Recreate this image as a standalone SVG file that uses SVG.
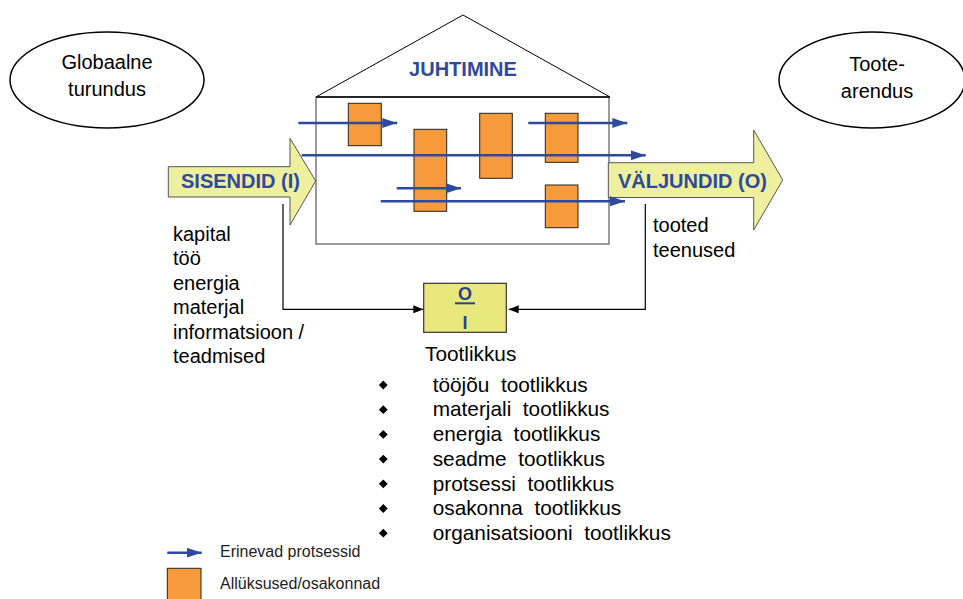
<svg xmlns="http://www.w3.org/2000/svg" width="963" height="599" viewBox="0 0 963 599">
<defs>
<style>
text{font-family:"Liberation Sans",Arial,sans-serif;fill:#000}
.t20{font-size:20px}
.t21{font-size:20.8px}
.blue{font-weight:bold;fill:#2E4A9C;font-size:20px}
.unit{fill:#F79A3B;stroke:#222;stroke-width:1}
.proc{stroke:#2E4A9C;stroke-width:2.6;fill:none;marker-end:url(#bh)}
.fb{stroke:#000;stroke-width:1.2;fill:none;marker-end:url(#kh)}
.bigarrow{fill:#EFEFA0;stroke:#555;stroke-width:1}
.sm{font-size:16px;fill:#222}
</style>
<marker id="bh" viewBox="0 0 15 10" refX="15" refY="5" markerWidth="15" markerHeight="10" markerUnits="userSpaceOnUse" orient="auto">
<path d="M0,0 L15,5 L0,10 Z" fill="#2E4A9C"/>
</marker>
<marker id="kh" viewBox="0 0 10 8" refX="10" refY="4" markerWidth="10" markerHeight="8" markerUnits="userSpaceOnUse" orient="auto">
<path d="M0,0 L10,4 L0,8 Z" fill="#000"/>
</marker>
</defs>
<rect width="963" height="599" fill="#fff"/>

<g id="globaalne-turundus">
<ellipse cx="107" cy="80" rx="97" ry="48" fill="none" stroke="#000" stroke-width="1.5"/>
<text class="t20" x="107" y="69" text-anchor="middle">Globaalne</text>
<text class="t20" x="107" y="96" text-anchor="middle">turundus</text>
</g>

<g id="tootearendus">
<ellipse cx="872" cy="80" rx="93" ry="48" fill="none" stroke="#000" stroke-width="1.5"/>
<text class="t20" x="877" y="71" text-anchor="middle">Toote-</text>
<text class="t20" x="877" y="98" text-anchor="middle">arendus</text>
</g>

<g id="juhtimine">
<polyline points="316,97 463,15 610,97" fill="none" stroke="#000" stroke-width="1"/>
<rect x="316" y="97" width="293" height="147" fill="#fff" stroke="#666" stroke-width="1.3"/>
<line x1="316" y1="97" x2="610" y2="97" stroke="#000" stroke-width="1.3"/>
<text class="blue" x="463" y="76" text-anchor="middle">JUHTIMINE</text>
</g>

<g id="sisendid">
<path class="bigarrow" d="M168.3,166.7 L290,166.7 L290,138.3 L315.7,181 L290,225 L290,197 L168.3,197 Z"/>
<text class="blue" x="181" y="187.5">SISENDID (I)</text>
</g>

<g id="valjundid">
<path class="bigarrow" d="M608.3,162.7 L753.7,162.7 L753.7,130 L782.7,180 L753.7,230 L753.7,197.5 L608.3,197.5 Z"/>
<text class="blue" x="618" y="187.5">VÄLJUNDID (O)</text>
</g>

<g id="allyksused">
<rect class="unit" x="348.3" y="103.3" width="33" height="42.4"/>
<rect class="unit" x="414" y="129.3" width="32.7" height="82"/>
<rect class="unit" x="479.7" y="113.3" width="32.6" height="65"/>
<rect class="unit" x="545.3" y="113.3" width="32.7" height="49"/>
<rect class="unit" x="545.3" y="185" width="32.7" height="42.7"/>
</g>

<g id="protsessid">
<line class="proc" x1="298.3" y1="123" x2="397.3" y2="123"/>
<line class="proc" x1="528.3" y1="123" x2="627.3" y2="123"/>
<line class="proc" x1="301.7" y1="155.3" x2="645.7" y2="155.3"/>
<line class="proc" x1="396.7" y1="188.3" x2="461" y2="188.3"/>
<line class="proc" x1="380.7" y1="201.3" x2="625" y2="201.3"/>
</g>

<g id="sisendid-list">
<text class="t20" x="173" y="241">kapital</text>
<text class="t20" x="173" y="265">töö</text>
<text class="t20" x="173" y="289.5">energia</text>
<text class="t20" x="173" y="314">materjal</text>
<text class="t20" x="173" y="338.5">informatsioon /</text>
<text class="t20" x="173" y="363">teadmised</text>
</g>

<g id="valjundid-list">
<text class="t20" x="653" y="231.7">tooted</text>
<text class="t20" x="653" y="256.5">teenused</text>
</g>

<g id="connectors">
<polyline class="fb" points="283,204 283,309.3 423.3,309.3"/>
<polyline class="fb" points="645.3,204 645.3,309.3 508.7,309.3"/>
</g>

<g id="o-i">
<rect x="423.7" y="283.3" width="82.6" height="49" fill="#E8E87C" stroke="#333" stroke-width="1.2"/>
<text x="465" y="299.5" text-anchor="middle" style="font-weight:bold;font-size:18px;fill:#2B3F8C">O</text>
<line x1="455" y1="303.3" x2="475" y2="303.3" stroke="#2B3F8C" stroke-width="2"/>
<text x="465" y="329.3" text-anchor="middle" style="font-weight:bold;font-size:18px;fill:#2B3F8C">I</text>
</g>

<g id="tootlikkus">
<text class="t21" x="425" y="361">Tootlikkus</text>
<g fill="#000">
<path d="M383.3,380.6 l4.4,4.4 l-4.4,4.4 l-4.4,-4.4 Z"/>
<path d="M383.3,405.3 l4.4,4.4 l-4.4,4.4 l-4.4,-4.4 Z"/>
<path d="M383.3,430 l4.4,4.4 l-4.4,4.4 l-4.4,-4.4 Z"/>
<path d="M383.3,454.7 l4.4,4.4 l-4.4,4.4 l-4.4,-4.4 Z"/>
<path d="M383.3,479.4 l4.4,4.4 l-4.4,4.4 l-4.4,-4.4 Z"/>
<path d="M383.3,504.1 l4.4,4.4 l-4.4,4.4 l-4.4,-4.4 Z"/>
<path d="M383.3,528.8 l4.4,4.4 l-4.4,4.4 l-4.4,-4.4 Z"/>
</g>
<text class="t21" x="432.7" y="391.7">tööjõu&#160; tootlikkus</text>
<text class="t21" x="432.7" y="416.4">materjali&#160; tootlikkus</text>
<text class="t21" x="432.7" y="441.1">energia&#160; tootlikkus</text>
<text class="t21" x="432.7" y="465.8">seadme&#160; tootlikkus</text>
<text class="t21" x="432.7" y="490.5">protsessi&#160; tootlikkus</text>
<text class="t21" x="432.7" y="515.2">osakonna&#160; tootlikkus</text>
<text class="t21" x="432.7" y="539.9">organisatsiooni&#160; tootlikkus</text>
</g>

<g id="legend">
<line class="proc" x1="167.3" y1="552.7" x2="201.7" y2="552.7"/>
<text class="sm" x="220" y="557">Erinevad protsessid</text>
<rect class="unit" x="167.3" y="568.3" width="33.7" height="40"/>
<text class="sm" x="220" y="589.3">Allüksused/osakonnad</text>
</g>
</svg>
